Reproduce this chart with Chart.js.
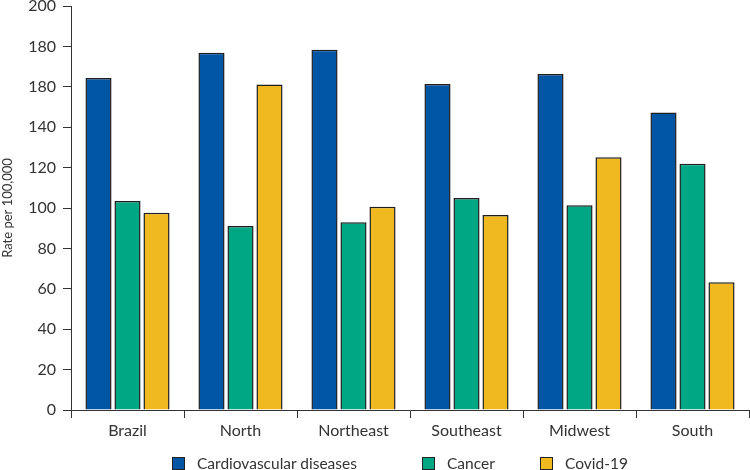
<!DOCTYPE html>
<html>
<head>
<meta charset="utf-8">
<script src="https://cdn.jsdelivr.net/npm/chart.js@4"></script>
<style>
    body { margin: 0; background: #fff; }
    #wrap { position: relative; width: 750px; height: 470px; }
    #legend {
        position: absolute; left: 172px; top: 456px;
        display: flex; font-family: Lato, sans-serif; font-size: 15.5px; color: #333;
    }
    #legend .item { display: flex; align-items: center; height: 14px; }
    #legend .box { width: 11px; height: 11px; border: 1px solid #222; margin-right: 12px; }
</style>
</head>
<body>
<div id="wrap">
    <canvas id="chart"></canvas>
    <div id="legend"></div>
</div>
<script>
// Data
const regions = ['Brazil', 'North', 'Northeast', 'Southeast', 'Midwest', 'South'];
const cardiovascular = [164.4, 176.8, 178.4, 161.4, 166.3, 147.3];
const cancer = [103.5, 91.1, 92.9, 105.0, 101.3, 121.9];
const covid = [97.7, 161.2, 100.6, 96.5, 125.1, 63.2];
// tick labels exactly as printed in the original (160 is shown as "180")
const yTickLabels = ['0', '20', '40', '60', '80', '100', '120', '140', '180', '180', '200'];

const seriesNames = ['Cardiovascular diseases', 'Cancer', 'Covid-19'];
const seriesColors = ['#0055a5', '#00a785', '#f0b91f'];

document.addEventListener('DOMContentLoaded', function() {
    const ctx = document.getElementById('chart').getContext('2d');
    const values = [cardiovascular, cancer, covid];

    const datasets = seriesNames.map((name, i) => ({
        label: name,
        data: values[i],
        backgroundColor: seriesColors[i],
        borderColor: '#1e1e1e',
        borderWidth: 1.5,
        categoryPercentage: 0.77,
        barPercentage: 0.9
    }));

    const chart = new Chart(ctx, {
        type: 'bar',
        data: { labels: regions, datasets: datasets },
        options: {
            responsive: true,
            maintainAspectRatio: false,
            animation: false,
            layout: { padding: { top: 0, right: 1, bottom: 30, left: 0 } },
            plugins: {
                legend: { display: false },
                tooltip: { enabled: false }
            },
            scales: {
                x: {
                    grid: { drawOnChartArea: false, tickLength: 8, color: '#333', offset: true },
                    border: { color: '#333', width: 1 },
                    ticks: { color: '#333', padding: 3, font: { family: 'Lato', size: 16 } },
                    afterFit: function(scale) { scale.height = 30; }
                },
                y: {
                    min: 0,
                    max: 200,
                    grid: { drawOnChartArea: false, tickLength: 8, color: '#333' },
                    border: { color: '#333', width: 1 },
                    ticks: {
                        stepSize: 20,
                        color: '#333',
                        padding: 7,
                        font: { family: 'Lato', size: 16 },
                        callback: value => yTickLabels[Math.round(value / 20)]
                    },
                    title: {
                        display: true,
                        text: 'Rate per 100,000',
                        color: '#333',
                        padding: 0,
                        font: { family: 'Lato', size: 13 }
                    },
                    afterFit: function(scale) {
                        scale.width = 71;
                        scale.paddingTop = 6;
                    }
                }
            }
        }
    });

    // HTML legend built from the chart's datasets
    const legend = document.getElementById('legend');
    const itemWidths = [250, 118, 100];
    chart.data.datasets.forEach((ds, i) => {
        const item = document.createElement('div');
        item.className = 'item';
        item.style.width = itemWidths[i] + 'px';
        const box = document.createElement('span');
        box.className = 'box';
        box.style.background = ds.backgroundColor;
        const text = document.createElement('span');
        text.textContent = ds.label;
        item.appendChild(box);
        item.appendChild(text);
        legend.appendChild(item);
    });
});
</script>
</body>
</html>
